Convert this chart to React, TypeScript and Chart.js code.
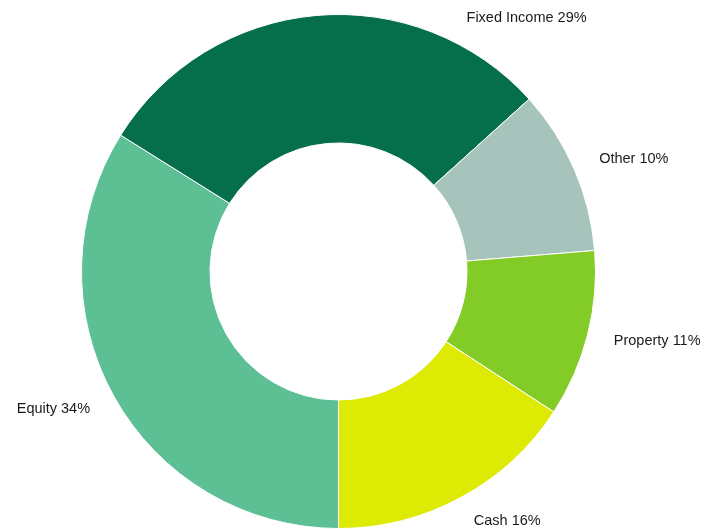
import React, { useEffect, useRef } from "react";
import { Chart, registerables } from "chart.js";

Chart.register(...registerables);

const categories = ["Equity", "Fixed Income", "Other", "Property", "Cash"];
const values = [33.9, 29.4, 10.4, 10.5, 15.8];
const colors = ["#5CC094", "#056E4B", "#A6C4BB", "#83CB27", "#DCEA04"];

const outsideLabels = {
  id: "outsideLabels",
  afterDatasetsDraw(chart: any) {
    const ctx = chart.ctx;
    const meta = chart.getDatasetMeta(0);
    const total = values.reduce((a, b) => a + b, 0);
    ctx.save();
    ctx.font = "14.5px 'Liberation Sans', Arial, sans-serif";
    ctx.fillStyle = "#1a1a1a";
    ctx.textBaseline = "middle";
    const minY = 18;
    const maxY = chart.height - 7;
    meta.data.forEach((arc: any, i: number) => {
      const { x, y, startAngle, endAngle, outerRadius } = arc.getProps(
        ["x", "y", "startAngle", "endAngle", "outerRadius"],
        true
      );
      const r = outerRadius + 27;
      let a = (startAngle + endAngle) / 2;
      let ly = y + r * Math.sin(a);
      if (ly < minY) {
        // slide along the label circle to the right until it fits
        const c = (y - minY) / r;
        a = -Math.PI / 2 + Math.acos(c);
        ly = minY;
      }
      if (ly > maxY) ly = maxY;
      const lx = x + r * Math.cos(a);
      const pct = Math.round((values[i] / total) * 100);
      const text = `${categories[i]} ${pct}%`;
      ctx.textAlign = Math.cos(a) >= 0 ? "left" : "right";
      ctx.fillText(text, lx, ly);
    });
    ctx.restore();
  },
};

export default function App() {
  const ref = useRef<HTMLCanvasElement | null>(null);
  useEffect(() => {
    if (!ref.current) return;
    const chart = new Chart(ref.current, {
      type: "doughnut",
      data: {
        labels: categories,
        datasets: [
          {
            data: values,
            backgroundColor: colors,
            borderColor: "#ffffff",
            borderWidth: 1,
            hoverOffset: 0,
          },
        ],
      },
      options: {
        animation: false,
        responsive: true,
        maintainAspectRatio: false,
        rotation: 180,
        cutout: "50%",
        layout: { padding: { left: 81, right: 117, top: 14, bottom: 0 } },
        plugins: {
          legend: { display: false },
          tooltip: { enabled: false },
        },
      },
      plugins: [outsideLabels],
    });
    return () => chart.destroy();
  }, []);
  return (
    <div
      style={{
        position: "fixed",
        left: 0,
        top: 0,
        width: 713,
        height: 529,
        background: "#fff",
      }}
    >
      <canvas ref={ref} />
    </div>
  );
}
